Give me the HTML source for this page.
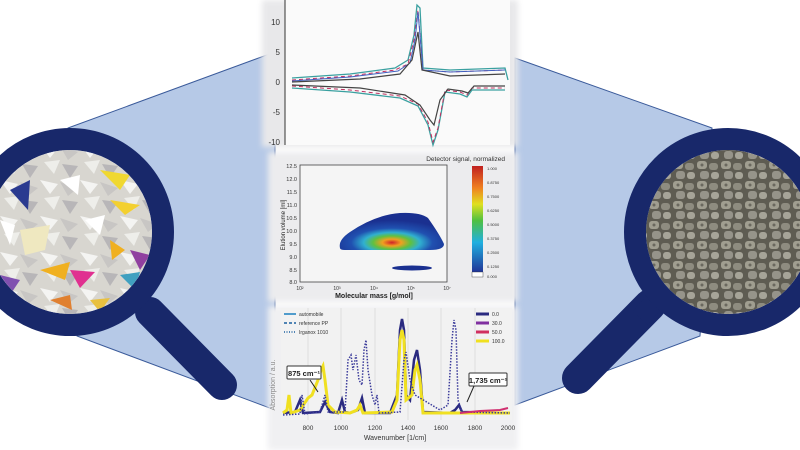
<!DOCTYPE html>
<html><head><meta charset="utf-8"><style>
html,body{margin:0;padding:0;background:#fff;width:800px;height:450px;overflow:hidden}
svg{display:block}
text{font-family:"Liberation Sans",sans-serif}
</style></head><body>
<svg width="800" height="450" viewBox="0 0 800 450">
<defs>
<filter id="bl" x="-10%" y="-10%" width="120%" height="120%"><feGaussianBlur stdDeviation="3"/></filter>
<radialGradient id="blob" cx="0.5" cy="0.8" r="0.6">
<stop offset="0" stop-color="#d0202a"/><stop offset="0.15" stop-color="#f0a020"/><stop offset="0.3" stop-color="#60c040"/><stop offset="0.45" stop-color="#30b0d0"/><stop offset="0.65" stop-color="#2050b0"/><stop offset="1" stop-color="#1a3090"/>
</radialGradient>
<linearGradient id="cb" x1="0" y1="0" x2="0" y2="1">
<stop offset="0" stop-color="#c02020"/><stop offset="0.2" stop-color="#f08020"/><stop offset="0.35" stop-color="#e0e020"/><stop offset="0.5" stop-color="#50c040"/><stop offset="0.7" stop-color="#20b0e0"/><stop offset="1" stop-color="#202890"/>
</linearGradient>
<pattern id="pp" width="24" height="20" patternUnits="userSpaceOnUse">
<rect width="24" height="20" fill="#5e5c52"/>
<rect x="1" y="1" width="10" height="8" rx="3" fill="#a09e90"/>
<rect x="13" y="3" width="9" height="7" rx="3" fill="#8e8c80"/>
<rect x="4" y="11" width="9" height="8" rx="3" fill="#96948a"/>
<rect x="15" y="12" width="8" height="7" rx="3" fill="#a6a498"/>
<circle cx="6" cy="5" r="1.5" fill="#6a685e"/>
</pattern>
<pattern id="tp" width="40" height="36" patternUnits="userSpaceOnUse">
<rect width="40" height="36" fill="#d8d6d0"/>
<polygon points="0,0 18,4 10,14" fill="#f4f4f2"/>
<polygon points="20,2 38,8 28,16" fill="#c8c6c4"/>
<polygon points="4,18 20,16 14,30" fill="#eeeeea"/>
<polygon points="22,20 38,22 30,34" fill="#b8b6b8"/>
</pattern>
<clipPath id="cl"><circle cx="70" cy="232" r="82"/></clipPath>
<clipPath id="cr"><circle cx="728" cy="232" r="82"/></clipPath>
</defs>
<polygon points="68,128 275,52 275,410 77,336" fill="#b6c9e7" stroke="#3a5a9a" stroke-width="1"/>
<polygon points="515,58 712,128 700,336 515,405" fill="#b6c9e7" stroke="#3a5a9a" stroke-width="1"/>
<!-- left magnifier -->
<line x1="150" y1="312" x2="222" y2="385" stroke="#18286a" stroke-width="30" stroke-linecap="round"/>
<line x1="140" y1="300" x2="160" y2="322" stroke="#18286a" stroke-width="20"/>
<circle cx="70" cy="232" r="93" fill="none" stroke="#18286a" stroke-width="22"/>
<circle cx="70" cy="232" r="82" fill="url(#tp)"/>
<g clip-path="url(#cl)">
<polygon points="100,170 130,175 120,190" fill="#f0d830"/>
<polygon points="10,190 30,180 28,210" fill="#2a3a90"/>
<polygon points="110,200 140,205 125,215" fill="#f3d030"/>
<polygon points="40,270 70,262 65,280" fill="#f0b020"/>
<polygon points="70,270 95,272 80,288" fill="#e03090"/>
<polygon points="110,240 125,250 112,260" fill="#f0b020"/>
<polygon points="20,230 50,225 45,250 25,255" fill="#efe8c0"/>
<polygon points="0,220 15,225 10,245" fill="#fff"/>
<polygon points="130,250 150,255 140,270" fill="#9040a0"/>
<polygon points="50,300 70,295 72,310" fill="#e08030"/>
<polygon points="60,180 80,175 78,195" fill="#fff"/>
<polygon points="85,220 105,215 100,235" fill="#fff"/>
<polygon points="120,275 140,272 135,290" fill="#40a0c0"/>
<polygon points="0,275 20,280 10,295" fill="#8050b0"/>
<polygon points="90,300 110,298 100,312" fill="#e8c040"/>
</g>
<!-- right magnifier -->
<line x1="650" y1="305" x2="578" y2="378" stroke="#18286a" stroke-width="32" stroke-linecap="round"/>
<line x1="665" y1="290" x2="640" y2="318" stroke="#18286a" stroke-width="20"/>
<circle cx="728" cy="232" r="93" fill="none" stroke="#18286a" stroke-width="22"/>
<circle cx="728" cy="232" r="82" fill="url(#pp)"/>
<!-- center panels -->
<rect x="262" y="0" width="256" height="147" fill="#e8e8ea" filter="url(#bl)"/>
<rect x="268" y="152" width="250" height="150" fill="#ececee" filter="url(#bl)"/>
<rect x="268" y="306" width="250" height="144" fill="#f0f0f2" filter="url(#bl)"/>
<rect x="285" y="0" width="225" height="145" fill="#fafafa"/>
<line x1="285" y1="0" x2="285" y2="145" stroke="#333" stroke-width="1"/>
<g font-size="8" fill="#333" text-anchor="end">
<text x="280" y="25">10</text><text x="280" y="55">5</text><text x="280" y="85">0</text><text x="280" y="115">-5</text><text x="280" y="145">-10</text>
</g>
<polyline points="292,78 350,74 395,68 408,60 414,35 417,5 420,8 423,68 450,70 505,68 508,80" fill="none" stroke="#3aa0a0" stroke-width="1.3"/>
<polyline points="292,80 350,76 395,70 408,64 414,40 418,10 423,70 450,72 505,70" fill="none" stroke="#c03060" stroke-width="1" stroke-dasharray="4,3"/>
<polyline points="292,81 350,77 398,71 410,63 415,40 418,12 423,70 450,72 505,70" fill="none" stroke="#4060c0" stroke-width="1"/>
<polyline points="292,82 360,79 400,74 412,60 418,32 422,70 450,76 505,74" fill="none" stroke="#444" stroke-width="1.2"/>
<polyline points="292,88 350,92 400,98 418,106 428,125 433,145 438,130 445,92 460,94 467,97 472,90 505,90" fill="none" stroke="#3aa0a0" stroke-width="1.3"/>
<polyline points="292,86 350,90 400,96 418,104 428,122 433,142 438,128 445,90 460,92 467,95 472,88 505,88" fill="none" stroke="#c03060" stroke-width="1" stroke-dasharray="4,3"/>
<polyline points="292,85 360,88 405,95 420,105 430,120 434,125 440,100 448,89 462,91 468,93 474,86 505,86" fill="none" stroke="#444" stroke-width="1.2"/>
<!-- middle panel -->
<text x="505" y="161" font-size="6.5" fill="#333" text-anchor="end">Detector signal, normalized</text>
<rect x="300" y="165" width="147" height="117" fill="#f5f5f5" stroke="#444" stroke-width="0.8"/>
<g font-size="5.5" fill="#333" text-anchor="end">
<text x="297" y="168">12.5</text><text x="297" y="181">12.0</text><text x="297" y="194">11.5</text><text x="297" y="207">11.0</text><text x="297" y="220">10.5</text><text x="297" y="233">10.0</text><text x="297" y="246">9.5</text><text x="297" y="259">9.0</text><text x="297" y="272">8.5</text><text x="297" y="284">8.0</text>
</g>
<text x="285" y="225" font-size="6" fill="#222" transform="rotate(-90 285 225)" text-anchor="middle">Elution volume [ml]</text>
<g font-size="5" fill="#333" text-anchor="middle"><text x="300" y="290">10²</text><text x="337" y="290">10³</text><text x="374" y="290">10⁴</text><text x="411" y="290">10⁵</text><text x="447" y="290">10⁷</text></g>
<text x="374" y="298" font-size="7" font-weight="bold" fill="#222" text-anchor="middle">Molecular mass [g/mol]</text>
<path d="M340,248 Q338,240 350,232 Q375,215 400,213 Q420,212 428,218 Q440,235 444,244 Q444,250 430,250 L345,250 Q340,250 340,248Z" fill="url(#blob)"/>
<ellipse cx="412" cy="268" rx="20" ry="2.5" fill="#1a3090"/>
<rect x="472" y="166" width="11" height="109" fill="url(#cb)"/>
<rect x="472" y="272" width="11" height="5" fill="#fff" stroke="#333" stroke-width="0.4"/>
<g font-size="4" fill="#333"><text x="487" y="170">1.000</text><text x="487" y="184">0.8750</text><text x="487" y="198">0.7500</text><text x="487" y="212">0.6250</text><text x="487" y="226">0.5000</text><text x="487" y="240">0.3750</text><text x="487" y="254">0.2500</text><text x="487" y="268">0.1250</text><text x="487" y="278">0.000</text></g>
<!-- bottom panel -->
<rect x="281" y="308" width="231" height="112" fill="#f2f2f2"/>
<g stroke="#ddd" stroke-width="1"><line x1="308" y1="308" x2="308" y2="420"/><line x1="341" y1="308" x2="341" y2="420"/><line x1="375" y1="308" x2="375" y2="420"/><line x1="408" y1="308" x2="408" y2="420"/><line x1="441" y1="308" x2="441" y2="420"/><line x1="475" y1="308" x2="475" y2="420"/></g>
<text x="275" y="385" font-size="7" fill="#888" transform="rotate(-90 275 385)" text-anchor="middle">Absorption / a.u.</text>
<g font-size="6.5" fill="#333" text-anchor="middle"><text x="308" y="430">800</text><text x="341" y="430">1000</text><text x="375" y="430">1200</text><text x="408" y="430">1400</text><text x="441" y="430">1600</text><text x="475" y="430">1800</text><text x="508" y="430">2000</text></g>
<text x="395" y="440" font-size="7" fill="#333" text-anchor="middle">Wavenumber [1/cm]</text>
<polyline points="283,413 295,412 300,400 303,413 320,412 325,402 330,412 338,413 342,400 345,412 350,413 358,410 362,398 365,413 390,413 397,395 400,330 402,319 404,330 406,395 410,400 414,360 417,350 420,370 423,412 450,413 455,410 459,405 462,412 510,413" fill="none" stroke="#2a2a80" stroke-width="2.5"/>
<polyline points="283,413 287,410 289,395 291,413 300,410 308,398 312,395 318,380 321,370 323,366 325,380 328,405 335,412 350,413 357,410 360,405 363,413 392,412 397,400 400,340 402,330 404,340 406,400 412,395 415,370 417,365 420,380 423,413 510,413" fill="none" stroke="#f0e020" stroke-width="3"/>
<polyline points="283,415 300,414 302,395 305,414 320,412 325,395 328,412 345,412 348,360 351,355 353,370 356,355 359,380 362,385 364,350 366,340 368,370 372,395 375,405 377,395 379,413 400,412 404,360 406,352 410,380 415,395 440,410 448,405 452,340 454,320 456,330 458,400 462,412 510,413" fill="none" stroke="#3a3a9a" stroke-width="1.5" stroke-dasharray="1.5,1.5"/>
<polyline points="460,413 480,411 500,410 508,408" fill="none" stroke="#d03070" stroke-width="2"/>
<g font-size="5" fill="#333">
<line x1="284" y1="314" x2="296" y2="314" stroke="#1a80c0" stroke-width="1.5"/><text x="299" y="316">automobile</text>
<line x1="284" y1="323" x2="296" y2="323" stroke="#1a60a0" stroke-width="1.5" stroke-dasharray="3,2"/><text x="299" y="325">reference PP</text>
<line x1="284" y1="332" x2="296" y2="332" stroke="#1a60a0" stroke-width="1.5" stroke-dasharray="1,1.5"/><text x="299" y="334">Irganox 1010</text>
<line x1="476" y1="314" x2="489" y2="314" stroke="#2a2a80" stroke-width="3"/><text x="492" y="316">0.0</text>
<line x1="476" y1="323" x2="489" y2="323" stroke="#8030a0" stroke-width="3"/><text x="492" y="325">30.0</text>
<line x1="476" y1="332" x2="489" y2="332" stroke="#d03060" stroke-width="3"/><text x="492" y="334">50.0</text>
<line x1="476" y1="341" x2="489" y2="341" stroke="#f0e020" stroke-width="3"/><text x="492" y="343">100.0</text>
</g>
<rect x="287" y="366" width="34" height="13" fill="#fff" stroke="#333" stroke-width="1" rx="1"/>
<text x="304" y="376" font-size="7.5" font-weight="bold" fill="#222" text-anchor="middle">875 cm⁻¹</text>
<line x1="310" y1="380" x2="318" y2="392" stroke="#222" stroke-width="1"/>
<rect x="469" y="373" width="38" height="13" fill="#fff" stroke="#333" stroke-width="1" rx="1"/>
<text x="488" y="383" font-size="7.5" font-weight="bold" fill="#222" text-anchor="middle">1,735 cm⁻¹</text>
<line x1="474" y1="386" x2="467" y2="402" stroke="#222" stroke-width="1"/>
</svg>
</body></html>
